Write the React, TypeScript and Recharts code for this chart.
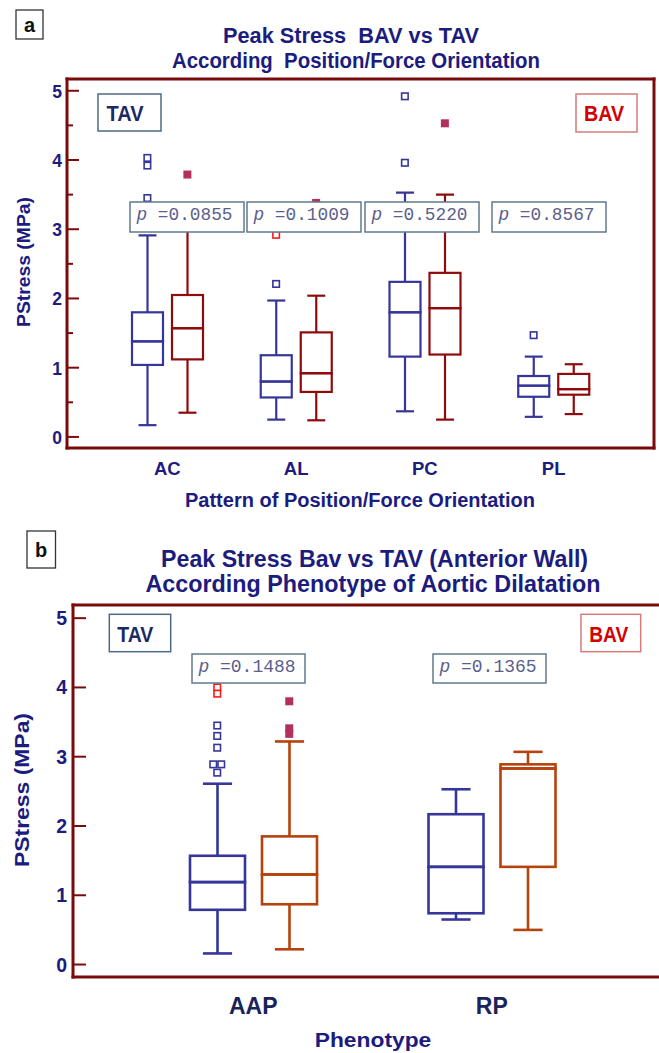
import React from 'react';
import { ComposedChart, Bar, Scatter, XAxis, YAxis, CartesianGrid } from 'recharts';

// ---------- Panel a data ----------
const CATS_A = ['AC', 'AL', 'PC', 'PL'];
const TAV_A_MIN = [0.17, 0.25, 0.37, 0.29];
const TAV_A_Q1 = [1.04, 0.57, 1.16, 0.58];
const TAV_A_MED = [1.38, 0.8, 1.8, 0.74];
const TAV_A_Q3 = [1.8, 1.18, 2.24, 0.88];
const TAV_A_MAX = [2.91, 1.97, 3.53, 1.16];
const BAV_A_MIN = [0.35, 0.24, 0.25, 0.33];
const BAV_A_Q1 = [1.12, 0.65, 1.19, 0.61];
const BAV_A_MED = [1.57, 0.92, 1.86, 0.69];
const BAV_A_Q3 = [2.05, 1.51, 2.37, 0.91];
const BAV_A_MAX = [3.15, 2.04, 3.5, 1.05];
const OUT_A_TAV = [
  { cat: 'AC', v: 4.03 }, { cat: 'AC', v: 3.92 }, { cat: 'AC', v: 3.45 },
  { cat: 'AL', v: 2.21 }, { cat: 'PC', v: 4.92 }, { cat: 'PC', v: 3.96 }, { cat: 'PL', v: 1.47 },
];
const OUT_A_BAV = [{ cat: 'AC', v: 3.79 }, { cat: 'AL', v: 3.38 }, { cat: 'PC', v: 4.53 }];
const OUT_A_FAR = [{ cat: 'AL', v: 2.92 }];
const P_A = ['0.0855', '0.1009', '0.5220', '0.8567'];

// ---------- Panel b data ----------
const CATS_B = ['AAP', 'RP'];
const TAV_B_MIN = [0.16, 0.65];
const TAV_B_Q1 = [0.79, 0.74];
const TAV_B_MED = [1.19, 1.41];
const TAV_B_Q3 = [1.57, 2.17];
const TAV_B_MAX = [2.61, 2.53];
const BAV_B_MIN = [0.22, 0.5];
const BAV_B_Q1 = [0.87, 1.41];
const BAV_B_MED = [1.3, 2.83];
const BAV_B_Q3 = [1.85, 2.89];
const BAV_B_MAX = [3.22, 3.07];
const OUT_B_TAV = [
  { cat: 'AAP', v: 2.77 }, { cat: 'AAP', v: 2.89 }, { cat: 'AAP', v: 2.89 },
  { cat: 'AAP', v: 3.13 }, { cat: 'AAP', v: 3.3 }, { cat: 'AAP', v: 3.45 },
];
const OUT_B_BAV = [{ cat: 'AAP', v: 3.8 }, { cat: 'AAP', v: 3.41 }, { cat: 'AAP', v: 3.33 }];
const OUT_B_FAR = [{ cat: 'AAP', v: 4.0 }, { cat: 'AAP', v: 3.91 }];
const P_B = ['0.1488', '0.1365'];

const Y_TICKS_A = [0, 0.5, 1, 1.5, 2, 2.5, 3, 3.5, 4, 4.5, 5];
const Y_TICKS_B = [0, 1, 2, 3, 4, 5];

// ---------- colours ----------
const NAVY = '#1c1c7e';
const TAV_COL = '#35359a';
const BAV_A_COL = '#8e0b0b';
const BAV_B_COL = '#b4430d';
const FILLED = '#b2305e';
const FAR_COL = '#ff1a1a';
const FRAME = '#7a0b0b';
const PBOX = '#5f7a8e';
const PTXT = '#5c5e8c';
const FONT = '"Liberation Sans", Arial, sans-serif';
const MONO = '"Liberation Mono", "Courier New", monospace';

function buildRows(cats: string[], t: number[][], b: number[][]) {
  return cats.map((cat, i) => {
    const [tmin, tq1, tmed, tq3, tmax] = t.map((a) => a[i]);
    const [bmin, bq1, bmed, bq3, bmax] = b.map((a) => a[i]);
    return {
      cat,
      t0: tmin, t1: tq1 - tmin, t2: tmed - tq1, t3: tq3 - tmed, t4: tmax - tq3,
      b0: bmin, b1: bq1 - bmin, b2: bmed - bq1, b3: bq3 - bmed, b4: bmax - bq3,
    };
  });
}

function prepOut(cats: string[], t: any[], b: any[], r: any[]) {
  const all = [
    ...t.map((o) => ({ ...o, grp: 't' })),
    ...b.map((o) => ({ ...o, grp: 'b' })),
    ...r.map((o) => ({ ...o, grp: 'r' })),
  ].sort((p, q) => cats.indexOf(p.cat) - cats.indexOf(q.cat));
  return all.map((o) => {
    const same = all.filter((p) => p.cat === o.cat && p.grp === o.grp && p.v === o.v);
    return { ...o, dup: same.length, k: same.indexOf(o) };
  });
}

const rowsA = buildRows(
  CATS_A,
  [TAV_A_MIN, TAV_A_Q1, TAV_A_MED, TAV_A_Q3, TAV_A_MAX],
  [BAV_A_MIN, BAV_A_Q1, BAV_A_MED, BAV_A_Q3, BAV_A_MAX]
);
const rowsB = buildRows(
  CATS_B,
  [TAV_B_MIN, TAV_B_Q1, TAV_B_MED, TAV_B_Q3, TAV_B_MAX],
  [BAV_B_MIN, BAV_B_Q1, BAV_B_MED, BAV_B_Q3, BAV_B_MAX]
);
const outA = prepOut(CATS_A, OUT_A_TAV, OUT_A_BAV, OUT_A_FAR);
const outB = prepOut(CATS_B, OUT_B_TAV, OUT_B_BAV, OUT_B_FAR);

function segShape(part: number, color: string, sw: number, capRatio: number) {
  return (props: any) => {
    const { x, y, width, height } = props;
    if (part === 0 || x == null) return <g />;
    const cx = x + width / 2;
    const cap = (width * capRatio) / 2;
    if (part === 1) {
      const yb = y + height;
      return (
        <g stroke={color} strokeWidth={sw} fill="none">
          <line x1={cx} y1={y} x2={cx} y2={yb} />
          <line x1={cx - cap} y1={yb} x2={cx + cap} y2={yb} />
        </g>
      );
    }
    if (part === 4) {
      return (
        <g stroke={color} strokeWidth={sw} fill="none">
          <line x1={cx} y1={y} x2={cx} y2={y + height} />
          <line x1={cx - cap} y1={y} x2={cx + cap} y2={y} />
        </g>
      );
    }
    return <rect x={x} y={y} width={width} height={height} fill="none" stroke={color} strokeWidth={sw} />;
  };
}

function outShape(shift: number, size: number, bavColor: string) {
  return (props: any) => {
    const { cx, cy, payload } = props;
    if (cx == null || cy == null) return <g />;
    const dx = (payload.k - (payload.dup - 1) / 2) * size;
    const px = cx + (payload.grp === 'b' ? shift : -shift) + dx;
    const h = size / 2;
    if (payload.grp === 'b') {
      return <rect x={px - h} y={cy - h} width={size} height={size} fill={bavColor} />;
    }
    const col = payload.grp === 'r' ? FAR_COL : TAV_COL;
    return (
      <rect x={px - h + 0.75} y={cy - h + 0.75} width={size - 1.5} height={size - 1.5}
        fill="white" stroke={col} strokeWidth={1.6} />
    );
  };
}

function yTick(labelSize: number, gap: number, majorLen: number, minorLen: number) {
  return (props: any) => {
    const { x, y, payload } = props;
    const major = Number.isInteger(payload.value);
    return (
      <g>
        <line x1={x} y1={y} x2={x + (major ? majorLen : minorLen)} y2={y} stroke={FRAME} strokeWidth={2} />
        {major && (
          <text x={x - gap} y={y + 7} textAnchor="end" fontFamily={FONT} fontWeight="bold"
            fontSize={labelSize} fill={NAVY}>
            {payload.value}
          </text>
        )}
      </g>
    );
  };
}

function xTick(labelSize: number, dy: number, color: string) {
  return (props: any) => {
    const { x, y, payload } = props;
    return (
      <text x={x} y={y + dy} textAnchor="middle" fontFamily={FONT} fontWeight="bold"
        fontSize={labelSize} fill={color}>
        {payload.value}
      </text>
    );
  };
}

const frameH = ({ offset }: any) => [offset.top, offset.top + offset.height];
const frameVA = ({ offset }: any) => [offset.left, offset.left + offset.width];
const frameVB = ({ offset }: any) => [offset.left];

function BoxSeries(color: string, sw: number, capRatio: number, key: string, stack: string) {
  return [0, 1, 2, 3, 4].map((p) => (
    <Bar key={key + p} dataKey={key + p} stackId={stack} isAnimationActive={false}
      shape={segShape(p, color, sw, capRatio)} />
  ));
}

function T(props: any) {
  const { x, y, size, w, children, color = NAVY, rotate = false, anchor = 'middle', weight = 'bold', family = FONT } = props;
  return (
    <text
      x={rotate ? 0 : x}
      y={rotate ? 0 : y}
      transform={rotate ? `translate(${x},${y}) rotate(-90)` : undefined}
      textAnchor={anchor}
      fontFamily={family}
      fontWeight={weight}
      fontSize={size}
      fill={color}
      textLength={w}
      lengthAdjust={w ? 'spacingAndGlyphs' : undefined}
      style={{ whiteSpace: 'pre' }}
    >
      {children}
    </text>
  );
}

function PBox({ x, y, w, h, val, tw }: any) {
  return (
    <g>
      <rect x={x} y={y} width={w} height={h} fill="white" stroke={PBOX} strokeWidth={1.5} />
      <text x={x + 6.5} y={y + 18} fontFamily={MONO} fontSize={18} fill={PTXT}
        textLength={tw} lengthAdjust="spacingAndGlyphs" style={{ whiteSpace: 'pre' }}>
        <tspan fontStyle="italic">p</tspan>{' =' + val}
      </text>
    </g>
  );
}

export default function App() {
  const pxA = [130, 247, 365, 492];
  const pxB = [192, 433];
  return (
    <div style={{ position: 'absolute', left: 0, top: 0, width: 659, height: 1053, overflow: 'hidden', background: '#fff' }}>
      {/* Panel a */}
      <div style={{ position: 'absolute', left: 0, top: 0 }}>
        <ComposedChart width={659} height={520} data={rowsA} barSize={31} barGap={9}
          margin={{ top: 79, right: 5, left: 7, bottom: 32 }}>
          <CartesianGrid stroke={FRAME} strokeWidth={3} horizontalCoordinatesGenerator={frameH}
            verticalCoordinatesGenerator={frameVA} strokeLinecap="square" />
          <XAxis dataKey="cat" type="category" allowDuplicatedCategory={false} height={40}
            padding={{ left: 36, right: 36 }} axisLine={false} tickLine={false} tickSize={0} tickMargin={0}
            tick={xTick(18.5, 27, NAVY)} interval={0} />
          <YAxis type="number" domain={[-0.16, 5.17]} allowDataOverflow ticks={Y_TICKS_A} interval={0}
            width={60} axisLine={false} tickLine={false} tickSize={0} tickMargin={0}
            tick={yTick(17.5, 5, 12, 6)} />
          {BoxSeries(TAV_COL, 2.2, 0.58, 't', 'tav')}
          {BoxSeries(BAV_A_COL, 2.2, 0.58, 'b', 'bav')}
          <Scatter data={outA} dataKey="v" isAnimationActive={false} shape={outShape(20, 8, FILLED)} />
        </ComposedChart>
      </div>

      {/* Panel b */}
      <div style={{ position: 'absolute', left: 0, top: 520 }}>
        <ComposedChart width={659} height={533} data={rowsB} barSize={55} barGap={17}
          margin={{ top: 85, right: 0, left: 13, bottom: 36 }}>
          <CartesianGrid stroke={FRAME} strokeWidth={3} horizontalCoordinatesGenerator={frameH}
            verticalCoordinatesGenerator={frameVB} strokeLinecap="square" />
          <XAxis dataKey="cat" type="category" allowDuplicatedCategory={false} height={40}
            padding={{ left: 61, right: 48 }} axisLine={false} tickLine={false} tickSize={0} tickMargin={0}
            tick={xTick(23, 37, '#1a2458')} interval={0} />
          <YAxis type="number" domain={[-0.18, 5.19]} allowDataOverflow ticks={Y_TICKS_B} interval={0}
            width={60} axisLine={false} tickLine={false} tickSize={0} tickMargin={0}
            tick={yTick(19.5, 6, 13, 0)} />
          {BoxSeries(TAV_COL, 2.6, 0.53, 't', 'tav')}
          {BoxSeries(BAV_B_COL, 2.6, 0.53, 'b', 'bav')}
          <Scatter data={outB} dataKey="v" isAnimationActive={false} shape={outShape(36, 8, FILLED)} />
        </ComposedChart>
      </div>

      {/* Annotations */}
      <svg width={659} height={1053} style={{ position: 'absolute', left: 0, top: 0, pointerEvents: 'none' }}>
        {/* panel a */}
        <rect x={16} y={10} width={27} height={29} fill="white" stroke="#333" strokeWidth={1.3} />
        <T x={29.5} y={32} size={20} color="#111">a</T>
        <T x={351} y={43} size={21.5} w={256}>{'Peak Stress  BAV vs TAV'}</T>
        <T x={356} y={68} size={21.5} w={368}>{'According  Position/Force Orientation'}</T>
        <T x={30} y={262} size={18} w={130} rotate>PStress (MPa)</T>
        <T x={360} y={507} size={19.5} w={350}>Pattern of Position/Force Orientation</T>
        <rect x={98} y={94} width={63} height={37} fill="white" stroke="#4f6a85" strokeWidth={1.5} />
        <T x={125} y={121} size={21.5} w={37} color="#1b2a66">TAV</T>
        <rect x={576} y={94} width={61} height={38} fill="white" stroke="#d77b7b" strokeWidth={1.5} />
        <T x={604} y={121} size={21.5} w={40} color="#d40000">BAV</T>
        {P_A.map((p, i) => (
          <PBox key={p} x={pxA[i]} y={202} w={114} h={30} val={p} tw={96} />
        ))}

        {/* panel b */}
        <rect x={27} y={531} width={28.5} height={37} fill="white" stroke="#333" strokeWidth={1.3} />
        <T x={41} y={557} size={20} color="#111">b</T>
        <T x={374.6} y={566.5} size={23} w={427}>Peak Stress Bav vs TAV (Anterior Wall)</T>
        <T x={373} y={591.5} size={23} w={455}>According Phenotype of Aortic Dilatation</T>
        <T x={29} y={790} size={20.5} w={154} rotate>PStress (MPa)</T>
        <T x={373} y={1046.5} size={20} w={116.5}>Phenotype</T>
        <rect x={109.3} y={614.3} width={61.4} height={37.4} fill="white" stroke="#4f6a85" strokeWidth={1.5} />
        <T x={135.3} y={642} size={22} w={36} color="#1b2a66">TAV</T>
        <rect x={581} y={614.3} width={59.7} height={37.4} fill="white" stroke="#d77b7b" strokeWidth={1.5} />
        <T x={608.8} y={642} size={22} w={39} color="#d40000">BAV</T>
        {P_B.map((p, i) => (
          <PBox key={p} x={pxB[i]} y={654} w={113} h={29} val={p} tw={97} />
        ))}
      </svg>
    </div>
  );
}
